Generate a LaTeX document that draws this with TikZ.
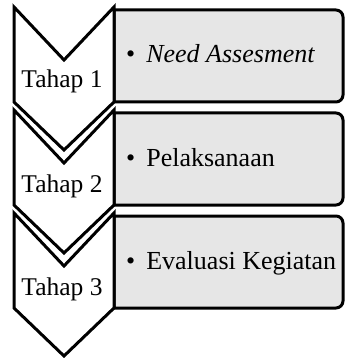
\documentclass[tikz,border=0pt]{standalone}
\usepackage{fontspec}
\setmainfont{Liberation Serif}
\definecolor{boxgray}{HTML}{E6E6E6}
\tikzset{
  chevron/.style={draw=black, fill=white, line width=3pt, miter limit=10},
  stepbox/.style={draw=black, fill=boxgray, line width=3pt},
  tahap/.style={anchor=base, inner sep=0pt, font=\fontsize{25.5}{30}\selectfont},
  item/.style={anchor=base west, inner sep=0pt, font=\fontsize{26}{30}\selectfont}
}
\begin{document}
\begin{tikzpicture}[x=1pt, y=-1pt]
    \useasboundingbox (0,0) rectangle (345,358);
    % boxes
    \draw [stepbox] (114,102) -- (114,10) [rounded corners=7pt] -- (343,10) -- (343,102) [sharp corners] -- (114,102) -- cycle;
    \draw [stepbox] (114,205) -- (114,113) [rounded corners=7pt] -- (343,113) -- (343,205) [sharp corners] -- (114,205) -- cycle;
    \draw [stepbox] (114,308) -- (114,216) [rounded corners=7pt] -- (343,216) -- (343,308) [sharp corners] -- (114,308) -- cycle;
    % chevrons
    \draw [chevron] (14,7) -- (64,60) -- (114,7) -- (114,102) -- (64,150) -- (14,102) -- cycle;
    \draw [chevron] (14,110) -- (64,163) -- (114,110) -- (114,205) -- (64,253) -- (14,205) -- cycle;
    \draw [chevron] (14,213) -- (64,266) -- (114,213) -- (114,308) -- (64,356) -- (14,308) -- cycle;
    \node [tahap] (t1) at (62,88) {Tahap 1};
    \node [tahap] (t2) at (62,192) {Tahap 2};
    \node [tahap] (t3) at (62,295) {Tahap 3};
    \node [item] (i1) at (126,63) {\textbullet\hspace{11pt}\textit{Need Assesment}};
    \node [item] (i2) at (126,166) {\textbullet\hspace{11pt}Pelaksanaan};
    \node [item] (i3) at (126,269) {\textbullet\hspace{11pt}Evaluasi Kegiatan};
\end{tikzpicture}
\end{document}
